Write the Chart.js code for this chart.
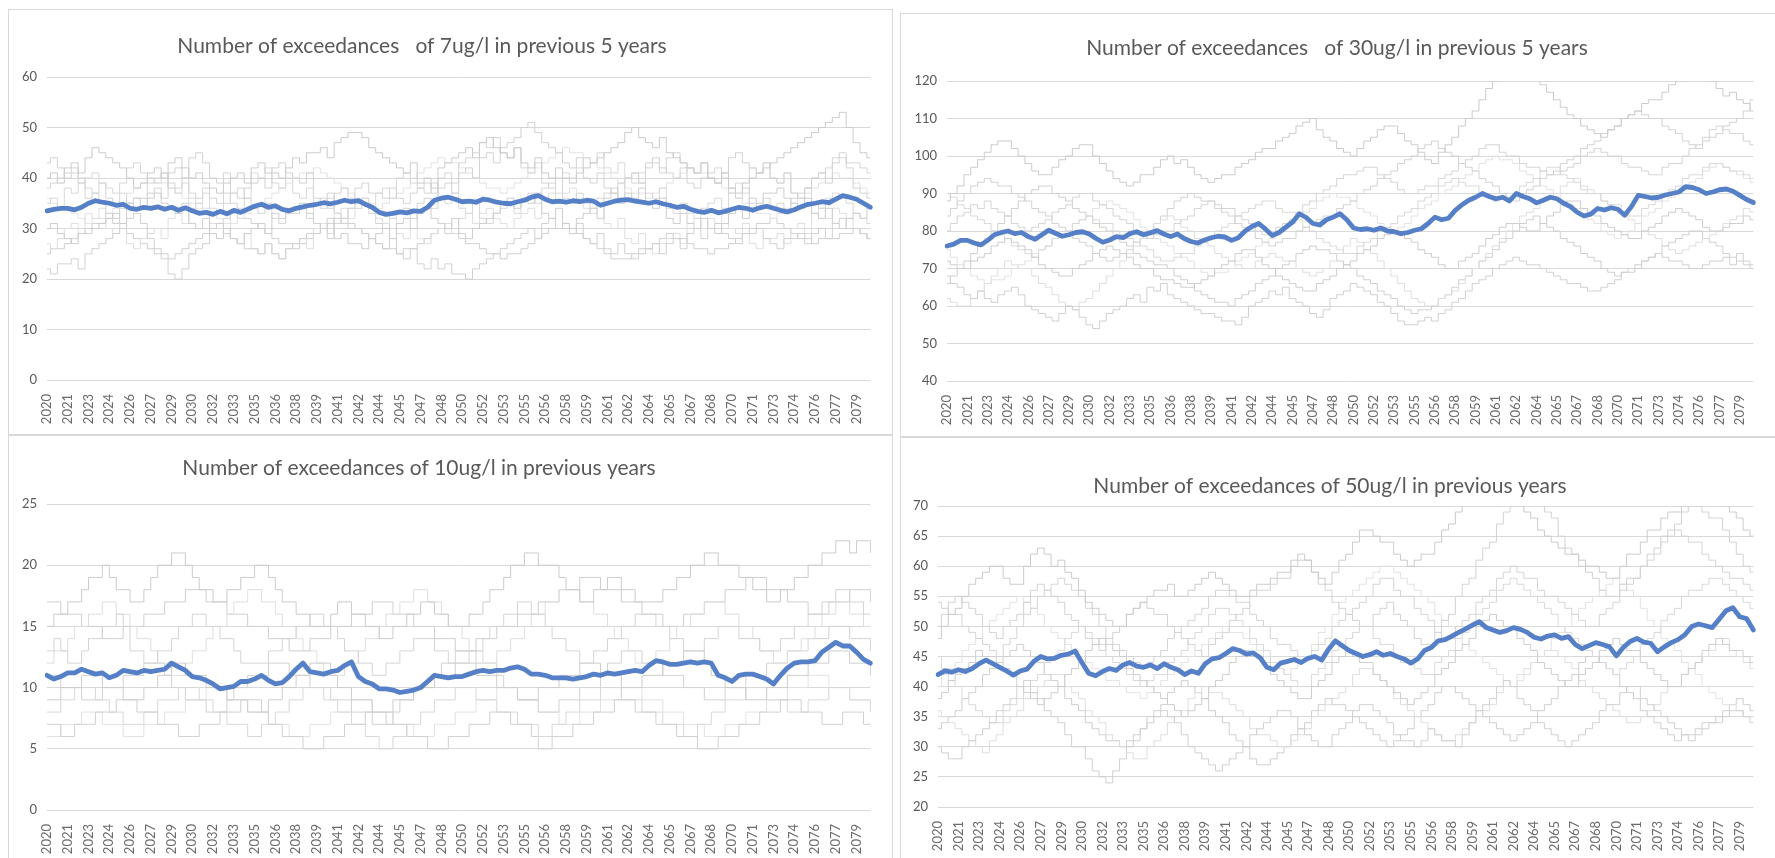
<!DOCTYPE html>
<html><head><meta charset="utf-8">
<script src="https://cdn.jsdelivr.net/npm/chart.js@4.4.1/dist/chart.umd.min.js"></script>
<style>
html,body{margin:0;padding:0;background:#fff;width:1775px;height:858px;overflow:hidden;}
.panel{position:absolute;border:1px solid #d9d9d9;box-sizing:border-box;background:#fff;}
.panel canvas{position:absolute;top:0;left:0;}
</style></head><body>
<div class="panel" style="left:900px;top:13px;width:876px;height:424px"><canvas id="c2" width="874" height="422"></canvas></div>
<div class="panel" style="left:900px;top:437px;width:876px;height:430px"><canvas id="c4" width="874" height="428"></canvas></div>
<div class="panel" style="left:8px;top:9px;width:885px;height:426px"><canvas id="c1" width="883" height="424"></canvas></div>
<div class="panel" style="left:8px;top:435px;width:885px;height:430px"><canvas id="c3" width="883" height="428"></canvas></div>
<script>
// ---------- tick labels ----------
const tickYears = ['2020','2021','2023','2024','2026','2027','2029','2030','2032','2033','2035','2036','2038','2039','2041','2042','2044','2045','2047','2048','2050','2052','2053','2055','2056','2058','2059','2061','2062','2064','2065','2067','2068','2070','2071','2073','2074','2076','2077','2079'];
const pointsPerTick = 3;

// ---------- titles ----------
const titles = [
  'Number of exceedances   of 7ug/l in previous 5 years',
  'Number of exceedances   of 30ug/l in previous 5 years',
  'Number of exceedances of 10ug/l in previous years',
  'Number of exceedances of 50ug/l in previous years'
];

// ---------- panel 1: 7ug/l ----------
const tlMean = [33.5,33.8,34, 34,33.7,34.2, 35,35.5,35.2, 35,34.6,34.8, 34,33.8,34.2, 34,34.3,33.8, 34.2,33.6,34.1, 33.5,33,33.2, 32.8,33.4,32.9, 33.6,33.2,33.8, 34.4,34.8,34.2, 34.5,33.8,33.5, 34.0,34.3,34.6, 34.8,35.1,34.9, 35.2,35.6,35.3, 35.5,34.8,34.2, 33.2,32.8,33.0, 33.3,33.1,33.5, 33.4,34.2,35.6, 36.0,36.2,35.8, 35.3,35.4,35.2, 35.8,35.6,35.2, 35.0,34.9,35.3, 35.6,36.2,36.5, 35.8,35.3,35.4, 35.2,35.5,35.3, 35.6,35.4,34.6, 35.0,35.4,35.6, 35.7,35.4,35.2, 35.0,35.3,34.9, 34.6,34.2,34.4, 33.8,33.4,33.2, 33.6,33.1,33.4, 33.8,34.2,34, 33.6,34.1,34.4, 34,33.6,33.3, 33.7,34.3,34.8, 35,35.3,35.1, 35.8,36.5,36.2, 35.8,35,34.2];
const tl1 = [40,41,39, 42,43,41, 44,46,45, 44,43,42, 40,38,39, 41,42,40, 43,44,42, 40,41,39, 38,37,39, 40,41,39, 42,43,41, 41,40,42, 44,43,45, 45,46,44, 47,48,49, 49,48,46, 45,44,43, 42,41,43, 39,40,38, 42,43,44, 45,46,44, 47,48,46, 45,44,46, 43,42,44, 41,40,42, 40,39,41, 42,43,44, 45,46,47, 49,50,48, 47,46,48, 45,44,43, 42,41,43, 40,39,41, 38,37,39, 40,41,42, 43,44,45, 46,47,48, 49,50,51, 52,53,50, 47,45,44];
const tl2 = [22,21,23, 23,24,22, 25,26,27, 28,29,30, 32,33,31, 28,26,24, 21,20,22, 25,26,27, 30,31,29, 28,27,26, 26,25,27, 25,24,26, 27,28,29, 29,30,28, 31,32,30, 30,29,28, 27,26,28, 25,24,26, 23,22,24, 22,23,21, 21,20,22, 23,24,25, 26,27,28, 29,30,28, 31,32,30, 30,29,31, 28,27,29, 26,25,27, 25,24,26, 26,27,25, 27,28,26, 29,30,28, 30,31,29, 28,27,29, 29,30,28, 27,26,28, 28,29,27, 29,30,28, 31,32,30, 30,29,28];
const tl3 = [38,39,40, 41,42,40, 38,37,39, 36,35,37, 35,36,34, 39,40,41, 39,38,40, 37,36,38, 36,35,37, 35,34,36, 34,33,35, 32,31,33, 33,34,32, 35,36,34, 37,38,36, 38,39,37, 37,36,38, 36,35,37, 38,39,37, 40,41,39, 43,44,45, 47,46,48, 45,44,46, 42,41,43, 39,38,40, 36,35,37, 35,34,36, 37,38,36, 40,41,39, 42,43,41, 44,45,43, 42,41,43, 40,39,41, 37,36,38, 35,34,36, 34,35,33, 36,37,38, 40,41,42, 44,45,43, 43,42,41];
const tl4 = [30,31,29, 28,27,29, 29,30,31, 32,33,31, 35,34,36, 36,37,35, 34,33,35, 31,30,32, 29,28,30, 28,27,29, 30,31,29, 33,32,34, 34,35,33, 31,30,32, 28,29,27, 27,26,28, 29,30,28, 31,32,30, 33,34,32, 31,30,32, 29,28,30, 31,32,33, 35,36,34, 36,35,37, 33,32,34, 31,30,32, 33,34,32, 36,37,35, 37,36,38, 35,34,36, 32,31,33, 31,30,32, 30,29,31, 33,34,32, 36,35,37, 37,38,36, 35,34,36, 33,32,34, 31,30,32, 33,32,34];
const tl5 = [35,36,34, 38,37,39, 40,41,39, 38,37,39, 42,43,41, 40,39,41, 38,37,39, 36,35,37, 34,33,35, 37,38,36, 41,40,42, 39,38,40, 37,36,38, 35,34,36, 33,32,34, 35,36,34, 37,38,36, 40,41,39, 38,37,39, 36,35,37, 34,33,35, 32,31,33, 34,35,33, 36,37,35, 38,39,37, 41,40,42, 44,43,45, 42,41,43, 40,39,41, 37,36,38, 34,33,35, 33,32,34, 35,36,34, 38,39,37, 42,41,43, 40,39,41, 37,36,38, 35,34,36, 37,36,35, 33,32,31];
const tl6 = [27,26,28, 30,31,29, 33,32,34, 30,29,31, 27,26,28, 29,30,28, 32,33,31, 34,35,33, 31,30,32, 28,27,29, 26,25,27, 25,24,26, 27,28,26, 30,31,29, 33,34,32, 35,36,34, 32,31,33, 29,28,30, 28,27,29, 30,31,29, 32,33,31, 33,34,32, 31,30,32, 33,34,32, 36,37,35, 37,38,36, 34,33,35, 31,30,32, 28,27,29, 26,25,27, 28,29,27, 31,32,30, 32,31,33, 30,29,31, 27,26,28, 28,29,27, 30,31,29, 33,34,32, 34,33,32, 30,29,28];
const tl7 = [43,44,42, 40,41,39, 36,37,35, 33,32,34, 35,36,34, 37,38,36, 41,42,40, 44,45,43, 40,39,41, 37,36,38, 39,40,38, 42,43,41, 40,39,41, 36,35,37, 33,32,34, 34,35,33, 31,30,32, 33,34,32, 35,36,34, 38,39,37, 41,42,40, 44,45,43, 46,47,48, 50,51,49, 47,46,45, 43,42,44, 40,39,41, 38,37,39, 40,41,39, 43,44,42, 41,40,42, 39,38,40, 41,42,40, 44,45,43, 42,41,43, 40,39,41, 37,36,38, 40,41,39, 43,44,42, 38,37,36];
const tl8 = [36,35,34, 34,33,32, 31,32,32, 33,34,35, 37,38,39, 40,39,39, 38,37,36, 35,34,34, 33,32,31, 31,32,33, 34,35,36, 37,38,39, 40,41,41, 42,41,40, 39,38,37, 36,35,35, 34,35,36, 37,38,40, 41,42,43, 44,43,43, 42,41,40, 39,38,38, 37,38,39, 40,41,42, 43,44,45, 46,45,45, 44,43,42, 41,40,39, 38,37,37, 36,37,38, 39,40,41, 42,41,41, 40,39,38, 37,36,35, 34,33,33, 32,33,34, 35,36,37, 38,39,40, 41,40,40, 39,38,37];
const tl9 = [25,26,26, 27,28,29, 30,31,31, 32,31,30, 29,28,27, 26,25,25, 24,25,26, 27,28,29, 30,31,32, 33,32,32, 31,30,29, 28,27,27, 26,27,28, 29,30,31, 32,31,31, 30,29,28, 27,26,26, 25,26,26, 27,28,29, 30,29,29, 28,27,27, 26,25,25, 24,25,25, 26,27,28, 29,30,30, 31,30,29, 28,27,26, 25,24,24, 24,25,25, 26,27,28, 29,28,28, 27,26,26, 25,26,26, 27,28,29, 30,31,31, 32,31,30, 29,28,28, 27,28,28, 28,29,29, 30,29,28];

// ---------- panel 2: 30ug/l ----------
const trMean = [76,76.5,77.5, 77.5,76.8,76.3, 77.5,79,79.6, 80,79.3,79.6, 78.5,77.8,79, 80.2,79.4,78.6, 79,79.6,79.8, 79.2,78,77, 77.6,78.5,78.2, 79.3,79.8,79, 79.5,80.1,79.2, 78.5,79.2,78, 77.2,76.8,77.6, 78.2,78.6,78.4, 77.5,78.2,80.0, 81.2,82.0,80.5, 78.8,79.6,81.0, 82.4,84.6,83.6, 82.0,81.6,83.0, 83.7,84.6,83.0, 80.8,80.4,80.6, 80.2,80.8,80.0, 79.8,79.3,79.6, 80.2,80.6,82.0, 83.7,83.0,83.4, 85.5,87.0,88.2, 89.0,90.0,89.2, 88.6,89.0,88.0, 90.0,89.2,88.6, 87.5,88.2,89.0, 88.6,87.4,86.5, 85.0,84.0,84.5, 86.0,85.6,86.2, 85.8,84.2,86.5, 89.5,89.2,88.8, 89.0,89.6,90.0, 90.4,91.8,91.6, 91.0,90.0,90.4, 91.0,91.2,90.6, 89.5,88.4,87.6];
const tr1 = [88,90,92, 95,97,99, 101,103,104, 104,102,100, 98,96,95, 95,97,99, 100,102,103, 103,100,98, 96,94,93, 92,93,95, 95,97,99, 100,98,99, 97,95,94, 93,94,95, 95,97,98, 99,101,102, 102,104,105, 106,108,109, 110,107,105, 104,102,101, 100,102,104, 105,107,108, 108,106,104, 103,101,99, 98,101,103, 105,108,110, 112,115,118, 120,123,125, 125,123,121, 122,119,117, 115,113,111, 110,108,107, 106,105,107, 108,110,111, 112,114,115, 115,117,119, 120,122,124, 124,122,120, 118,116,117, 115,114,112];
const tr2 = [68,66,65, 63,62,64, 62,61,63, 64,65,63, 60,59,58, 57,56,58, 60,59,57, 55,54,56, 58,59,60, 62,63,61, 65,64,66, 63,62,61, 60,59,58, 58,57,56, 56,55,57, 60,61,62, 64,63,65, 62,61,60, 58,57,59, 62,63,64, 66,65,64, 63,61,60, 58,56,55, 55,56,57, 56,58,59, 61,62,64, 66,67,68, 70,71,72, 73,72,71, 71,70,69, 68,67,66, 66,65,64, 64,65,66, 67,69,70, 71,72,73, 74,73,72, 72,71,70, 70,71,72, 72,73,71, 74,72,71];
const tr3 = [80,82,84, 85,87,86, 88,86,85, 84,82,81, 80,81,82, 83,85,86, 87,89,90, 90,88,87, 86,84,83, 82,80,79, 78,79,80, 80,82,83, 84,86,87, 88,87,86, 86,84,83, 82,80,79, 79,81,82, 83,85,87, 88,90,91, 92,94,95, 95,96,97, 97,95,94, 93,91,90, 90,91,92, 92,94,95, 96,98,99, 100,102,103, 103,101,100, 100,98,97, 97,96,95, 95,96,97, 98,100,101, 102,101,100, 100,98,97, 97,96,95, 95,97,98, 98,100,102, 103,105,107, 108,107,106, 106,104,103];
const tr4 = [72,71,70, 70,72,73, 74,76,77, 78,77,76, 75,73,71, 70,69,68, 68,70,71, 72,74,75, 76,75,74, 73,71,70, 70,68,67, 67,66,65, 65,66,67, 68,70,71, 72,74,75, 75,73,71, 70,68,67, 66,65,64, 64,66,67, 68,70,71, 72,74,75, 76,78,79, 80,79,78, 77,75,74, 73,71,70, 70,72,73, 74,76,78, 79,81,82, 82,81,80, 80,82,84, 85,87,88, 88,86,85, 84,82,81, 80,79,78, 78,80,81, 82,84,85, 86,85,84, 83,81,80, 80,81,82, 82,84,83];
const tr5 = [90,89,87, 86,84,83, 82,80,79, 78,76,75, 74,73,75, 76,78,79, 80,82,83, 84,83,82, 82,80,79, 78,77,76, 75,73,72, 72,73,74, 74,76,77, 78,80,81, 82,84,85, 86,87,88, 88,86,85, 85,83,81, 80,78,77, 76,75,74, 74,76,77, 78,80,81, 82,84,85, 86,88,89, 90,92,93, 94,93,92, 92,90,89, 88,89,90, 90,92,93, 94,96,97, 97,95,94, 93,91,90, 90,88,87, 87,85,84, 84,86,87, 88,90,91, 92,94,95, 95,97,98, 98,97,96, 96,95,94];
const tr6 = [62,61,60, 60,62,64, 66,68,70, 72,71,70, 70,68,66, 65,63,61, 60,59,61, 62,64,66, 68,70,72, 74,76,78, 80,82,83, 84,83,81, 80,78,77, 76,74,73, 72,71,70, 70,72,73, 74,73,72, 72,70,69, 68,69,70, 72,74,76, 78,77,75, 74,72,70, 68,66,64, 62,61,60, 60,62,63, 64,66,68, 70,72,74, 76,78,80, 82,84,85, 86,88,89, 90,92,93, 94,92,91, 90,88,87, 86,84,83, 82,80,79, 78,76,75, 74,75,76, 77,78,79, 80,82,83, 84,86,85];
const tr7 = [84,86,88, 90,92,93, 94,93,92, 92,90,89, 88,86,85, 84,82,81, 80,78,77, 76,74,73, 72,73,74, 75,77,78, 80,82,84, 86,88,89, 90,89,88, 88,86,85, 84,82,81, 80,78,77, 76,77,78, 78,80,81, 82,83,84, 84,86,87, 88,90,91, 92,94,95, 96,98,99, 100,102,103, 104,102,101, 100,98,97, 96,94,93, 92,90,89, 88,90,91, 92,94,95, 96,98,99, 100,102,103, 104,106,107, 108,110,111, 112,111,110, 110,108,107, 106,104,103, 102,104,105, 106,108,109, 110,112,115];
const tr8 = [75,73,71, 70,68,67, 66,67,67, 68,70,71, 72,74,75, 76,78,79, 80,82,83, 84,86,87, 88,87,86, 85,83,81, 80,78,77, 76,74,73, 72,70,69, 68,69,69, 70,72,73, 74,76,77, 78,80,81, 82,84,85, 86,88,89, 90,89,89, 88,86,85, 84,82,81, 80,81,82, 84,86,87, 88,90,91, 92,94,95, 96,98,99, 100,99,99, 98,96,95, 94,92,91, 90,88,87, 86,84,83, 82,80,79, 78,79,80, 82,84,85, 86,88,89, 90,92,93, 94,96,97, 98,97,96, 95,94,93];
const tr9 = [66,68,70, 72,74,76, 78,80,82, 84,86,88, 90,91,92, 92,90,89, 88,86,85, 84,82,81, 80,78,77, 76,74,73, 72,71,71, 70,68,67, 66,64,63, 62,61,61, 60,62,63, 64,66,67, 68,70,71, 72,74,75, 76,75,75, 74,72,71, 70,68,67, 66,64,63, 62,60,59, 58,59,59, 60,62,63, 65,67,68, 70,72,73, 75,77,78, 80,82,83, 84,82,81, 80,78,77, 76,74,73, 72,70,69, 68,69,69, 70,72,73, 74,76,77, 78,79,80, 80,78,77, 76,74,73, 72,71,70];

// ---------- panel 3: 10ug/l ----------
const blMean = [11.0,10.7,10.9, 11.2,11.2,11.5, 11.3,11.1,11.2, 10.8,11.0,11.4, 11.3,11.2,11.4, 11.3,11.4,11.5, 12.0,11.7,11.4, 10.9,10.8,10.6, 10.3,9.9,10.0, 10.1,10.5,10.5, 10.7,11.0,10.6, 10.3,10.4,10.9, 11.5,12.0,11.3, 11.2,11.1,11.3, 11.4,11.8,12.1, 10.9,10.5,10.3, 9.9,9.9,9.8, 9.6,9.7,9.8, 10.0,10.5,11.0, 10.9,10.8,10.9, 10.9,11.1,11.3, 11.4,11.3,11.4, 11.4,11.6,11.7, 11.5,11.1,11.1, 11.0,10.8,10.8, 10.8,10.7,10.8, 10.9,11.1,11.0, 11.2,11.1,11.2, 11.3,11.4,11.3, 11.8,12.2,12.1, 11.9,11.9,12.0, 12.1,12.0,12.1, 12.0,11.0,10.8, 10.5,11.0,11.1, 11.1,10.9,10.7, 10.3,11.0,11.6, 12.0,12.1,12.1, 12.2,12.9,13.3, 13.7,13.4,13.4, 12.9,12.3,12.0];
const bl1 = [15,16,16, 17,17,18, 19,19,20, 19,18,18, 17,17,18, 19,20,20, 21,21,20, 19,18,18, 17,17,18, 18,19,19, 20,20,19, 18,17,17, 16,16,15, 15,15,16, 17,17,16, 16,15,15, 14,14,15, 15,16,16, 17,17,16, 16,15,15, 15,16,16, 17,18,18, 19,20,20, 21,21,20, 20,20,19, 18,18,17, 17,18,18, 19,19,18, 18,17,17, 17,17,18, 18,19,19, 20,20,21, 21,20,20, 20,19,19, 18,18,17, 17,18,18, 19,19,20, 20,21,21, 22,22,21, 22,22,21];
const bl2 = [7,7,6, 6,7,7, 7,8,8, 8,9,9, 9,8,8, 8,7,7, 7,6,6, 6,7,7, 7,8,8, 8,9,9, 9,8,7, 7,6,6, 6,5,5, 5,6,6, 6,7,7, 7,8,8, 8,7,7, 7,6,6, 6,5,5, 5,6,6, 6,7,7, 7,8,8, 8,7,7, 7,6,5, 5,6,6, 6,7,7, 7,8,8, 8,9,9, 9,8,8, 8,7,7, 7,6,6, 6,5,5, 5,6,6, 6,7,7, 7,8,8, 8,9,9, 9,8,8, 8,7,7, 7,8,8, 8,7,7];
const bl3 = [13,14,13, 12,12,13, 14,14,15, 15,16,15, 13,13,12, 12,13,13, 14,15,15, 16,16,15, 15,14,14, 13,12,12, 12,12,13, 13,14,14, 15,15,16, 16,15,15, 14,13,13, 12,12,11, 11,12,12, 13,13,14, 14,14,13, 13,12,12, 12,13,13, 14,15,15, 16,16,17, 17,16,16, 15,14,14, 13,13,12, 12,13,13, 14,14,15, 15,16,16, 16,15,15, 14,14,13, 13,13,14, 14,15,15, 15,14,14, 14,13,13, 13,14,14, 15,15,16, 16,17,17, 18,18,17, 17,16,16];
const bl4 = [9,9,10, 10,10,11, 11,11,10, 10,10,9, 9,9,10, 10,11,11, 12,12,11, 11,11,10, 10,10,9, 9,9,8, 8,8,9, 9,10,10, 11,11,12, 12,12,11, 10,10,9, 9,9,8, 8,8,9, 9,9,10, 10,10,11, 11,11,12, 12,12,11, 11,11,10, 10,10,9, 9,9,10, 10,10,11, 11,11,12, 12,12,11, 11,11,10, 10,10,11, 11,11,12, 12,12,13, 13,13,12, 11,11,10, 10,10,9, 9,9,10, 10,10,11, 11,11,12, 12,12,13, 13,13,12, 12,12,11];
const bl5 = [8,8,9, 9,10,10, 10,9,9, 8,8,7, 7,7,8, 8,9,9, 9,10,10, 10,9,9, 8,8,7, 7,7,6, 6,7,7, 8,8,9, 9,10,10, 10,9,9, 8,8,7, 7,6,6, 5,5,6, 6,7,7, 8,8,9, 9,9,10, 10,10,9, 9,9,8, 8,8,7, 7,7,6, 6,7,7, 8,8,9, 9,9,10, 10,10,9, 9,9,8, 8,8,7, 7,7,6, 6,7,7, 8,8,9, 9,9,10, 10,10,9, 9,9,8, 8,8,9, 9,9,10, 10,10,9, 9,9,8];
const bl6 = [12,13,13, 14,15,15, 16,16,17, 17,16,16, 15,14,14, 13,12,12, 11,11,12, 13,13,14, 15,15,16, 17,17,18, 18,17,17, 16,15,15, 14,13,13, 12,11,11, 11,12,12, 13,14,14, 15,16,16, 17,17,18, 18,17,17, 16,15,15, 14,13,13, 12,12,13, 13,14,14, 15,16,16, 17,17,18, 18,18,17, 17,16,16, 15,14,14, 13,12,12, 12,13,13, 14,15,15, 16,16,17, 17,17,16, 16,15,15, 14,13,13, 12,12,13, 13,14,14, 15,16,16, 17,17,16, 16,15,15];
const bl7 = [11,11,10, 10,10,9, 9,9,10, 10,10,11, 11,11,12, 12,12,11, 10,10,9, 9,9,8, 8,8,9, 10,10,11, 11,11,12, 12,12,11, 11,11,10, 10,10,9, 9,9,8, 8,8,7, 7,7,8, 9,9,10, 10,10,11, 12,12,13, 13,13,12, 12,12,11, 10,10,9, 9,9,8, 8,8,9, 9,9,10, 10,10,11, 12,12,13, 13,13,12, 12,12,11, 11,11,10, 10,10,9, 9,9,10, 10,10,11, 11,11,12, 12,12,13, 13,13,14, 14,14,15, 15,15,14, 14,14,13];
const bl8 = [6,6,7, 7,7,8, 8,8,7, 7,7,6, 6,6,7, 7,7,8, 8,8,9, 9,9,10, 10,10,9, 9,9,8, 8,8,7, 7,7,6, 6,6,7, 7,7,8, 8,8,9, 9,9,8, 8,8,7, 7,7,6, 6,6,7, 7,7,8, 8,8,9, 9,9,10, 10,10,9, 9,9,8, 8,8,7, 7,7,8, 8,8,9, 9,9,10, 10,10,9, 9,9,8, 8,8,7, 7,7,6, 6,6,7, 7,7,8, 8,8,9, 9,9,10, 10,10,11, 11,11,10, 10,10,9, 9,9,8];
const bl9 = [17,17,16, 16,16,15, 15,15,14, 14,14,15, 15,15,16, 16,16,17, 17,17,18, 18,18,17, 17,17,16, 16,16,15, 15,15,14, 14,14,13, 13,13,14, 14,14,15, 15,15,16, 16,16,17, 17,17,16, 16,16,15, 15,15,14, 14,14,13, 13,13,14, 14,14,15, 15,15,16, 16,16,17, 17,17,18, 18,18,19, 19,19,18, 18,18,17, 17,17,16, 16,16,15, 15,15,16, 16,16,17, 17,17,18, 18,18,19, 19,19,18, 18,18,17, 17,17,16, 16,16,17, 17,17,18, 18,18,17];

// ---------- panel 4: 50ug/l ----------
const brMean = [42.0,42.6,42.4, 42.8,42.5,43.0, 43.8,44.4,43.8, 43.2,42.6,41.9, 42.6,42.9,44.2, 45.0,44.6,44.7, 45.2,45.4,45.9, 44.0,42.2,41.8, 42.5,43.0,42.7, 43.6,44.0,43.4, 43.2,43.6,43.0, 43.8,43.2,42.8, 42.0,42.6,42.2, 43.8,44.6,44.8, 45.5,46.3,46.0, 45.4,45.6,44.8, 43.2,42.8,43.9, 44.2,44.5,44.0, 44.7,45.0,44.4, 46.2,47.6,46.8, 46.0,45.5,45.0, 45.3,45.8,45.2, 45.5,45.0,44.6, 43.9,44.6,46.0, 46.5,47.6,47.8, 48.4,49.0,49.6, 50.2,50.8,49.8, 49.4,49.0,49.3, 49.8,49.5,49.0, 48.2,47.9,48.4, 48.6,48.0,48.3, 47.0,46.3,46.8, 47.3,47.0,46.6, 45.1,46.5,47.5, 48.0,47.4,47.2, 45.8,46.6,47.3, 47.8,48.6,50.0, 50.4,50.1,49.8, 51.2,52.6,53.1, 51.6,51.3,49.4];
const br1 = [48,50,52, 53,55,57, 58,59,60, 60,58,57, 57,60,62, 63,62,60, 61,59,58, 56,54,53, 52,51,50, 50,52,53, 54,55,56, 56,57,55, 55,56,57, 58,59,58, 57,56,55, 55,56,57, 57,58,59, 59,61,62, 61,59,58, 57,59,61, 62,64,66, 66,65,64, 64,62,61, 60,61,62, 62,64,66, 67,69,71, 72,74,75, 74,73,72, 72,70,69, 68,66,65, 64,63,62, 62,61,60, 60,59,58, 58,60,62, 62,64,66, 66,68,69, 69,71,72, 72,73,71, 71,70,69, 68,66,65];
const br2 = [30,29,28, 28,30,31, 32,33,34, 36,37,38, 40,41,39, 38,36,35, 34,32,30, 30,28,26, 25,24,26, 28,30,31, 33,34,35, 36,35,34, 32,30,29, 28,27,26, 27,28,29, 30,32,33, 34,35,36, 36,35,33, 32,31,30, 30,32,33, 34,36,37, 37,36,35, 34,32,31, 31,30,31, 33,32,31, 31,30,32, 34,36,37, 38,40,41, 40,38,37, 36,34,33, 32,31,30, 31,32,33, 34,36,37, 37,39,40, 40,38,37, 36,35,34, 33,32,31, 32,33,34, 34,35,36, 36,35,34];
const br3 = [54,53,52, 52,50,49, 48,47,46, 45,47,48, 50,52,53, 55,56,57, 58,57,56, 55,53,52, 50,48,47, 46,45,44, 43,44,45, 46,48,49, 50,51,52, 53,55,56, 56,55,54, 54,52,51, 50,48,47, 47,46,45, 45,46,47, 48,50,51, 52,53,54, 55,57,58, 58,56,55, 55,53,52, 51,49,48, 48,50,51, 52,54,55, 56,58,59, 60,59,58, 58,56,55, 55,54,53, 52,51,50, 50,52,53, 54,56,57, 58,60,61, 62,64,65, 66,65,64, 64,62,61, 60,59,58, 58,57,56];
const br4 = [38,39,41, 42,43,44, 46,45,45, 44,43,42, 40,39,38, 37,38,39, 40,42,43, 44,46,47, 48,47,46, 45,43,42, 41,40,39, 38,37,36, 35,36,37, 38,40,41, 42,44,45, 46,45,45, 44,42,41, 40,39,38, 38,40,41, 42,44,45, 46,45,44, 44,42,41, 40,39,38, 37,38,39, 40,42,43, 44,46,47, 48,50,51, 52,51,50, 50,48,47, 46,44,43, 42,41,40, 40,42,43, 44,46,47, 48,47,46, 46,44,43, 42,41,40, 40,42,43, 44,46,47, 48,47,46, 46,45,44];
const br5 = [45,43,41, 40,38,37, 36,35,34, 34,36,37, 38,40,41, 42,44,45, 46,48,49, 50,49,48, 47,45,44, 43,42,41, 40,41,42, 42,44,45, 46,48,49, 50,52,53, 53,52,51, 50,48,47, 46,44,43, 42,41,40, 40,42,43, 44,46,47, 48,49,50, 50,48,47, 47,45,44, 44,43,42, 42,44,45, 46,48,49, 50,52,53, 54,56,57, 58,57,56, 55,54,53, 52,50,49, 48,47,46, 45,44,43, 42,43,44, 45,47,48, 49,51,52, 53,55,56, 56,57,58, 58,57,56, 55,54,53];
const br6 = [36,35,34, 33,32,31, 30,29,31, 32,34,35, 36,38,39, 40,41,42, 42,40,39, 38,36,35, 34,32,31, 30,29,28, 28,30,31, 32,34,35, 36,38,39, 40,39,39, 38,37,36, 35,33,32, 32,31,30, 30,31,32, 33,35,36, 37,38,39, 40,42,43, 43,42,41, 40,38,37, 36,35,34, 33,32,31, 31,32,33, 34,35,36, 37,39,40, 40,42,43, 44,45,46, 46,45,44, 43,41,40, 39,38,37, 36,35,34, 34,35,36, 37,39,40, 40,42,43, 44,45,46, 47,48,46, 45,44,43];
const br7 = [50,52,54, 55,54,53, 52,50,49, 48,50,51, 52,54,56, 57,56,55, 54,52,51, 50,48,47, 46,48,49, 50,52,53, 54,53,52, 52,50,49, 48,47,46, 45,47,48, 49,51,52, 53,55,56, 56,57,58, 58,60,61, 61,59,57, 56,54,53, 52,51,50, 50,52,53, 54,52,51, 50,48,47, 47,49,51, 52,55,57, 58,61,63, 64,67,69, 70,72,73, 73,71,69, 68,65,63, 62,60,59, 58,56,55, 55,57,58, 58,60,62, 63,65,66, 67,69,70, 70,69,68, 68,66,64, 62,60,59];
const br8 = [40,42,43, 44,46,47, 48,50,51, 52,53,54, 55,54,53, 52,50,49, 48,47,46, 45,44,43, 42,41,41, 40,39,39, 38,39,40, 41,42,43, 44,45,46, 47,48,49, 50,49,49, 48,47,46, 45,44,43, 42,43,44, 45,47,49, 50,52,54, 55,56,57, 58,59,60, 60,59,58, 57,56,55, 54,52,51, 50,48,47, 46,45,44, 43,42,41, 40,41,42, 44,45,46, 48,49,50, 52,53,54, 55,56,57, 58,57,56, 55,53,51, 50,48,47, 46,44,43, 42,40,39, 38,37,37, 36,35,35];
const br9 = [33,34,35, 36,38,39, 40,42,43, 44,45,46, 47,46,45, 44,42,41, 40,38,37, 36,34,33, 32,31,31, 30,31,32, 33,35,36, 37,39,40, 41,40,39, 38,36,35, 34,32,31, 30,28,27, 27,28,29, 30,32,33, 34,36,37, 38,37,37, 36,35,34, 33,32,31, 30,31,32, 33,35,36, 37,39,40, 40,39,38, 37,36,35, 34,33,32, 31,32,33, 34,36,37, 38,40,41, 42,44,45, 45,44,43, 42,40,39, 38,36,35, 34,33,32, 31,32,32, 33,34,34, 35,36,37, 38,37,36];

// ---------- build ----------
const categories = [];
tickYears.forEach(y => { for (let k = 0; k < pointsPerTick; k++) categories.push(k === 0 ? y : ''); });

const FONT = 'Lato, "Open Sans", "Liberation Sans", sans-serif';
const greyColors = ['#cbcbcb','#d0d0d0','#d4d4d4','#cdcdcd','#d8d8d8','#dedede','#d2d2d2','#e2e2e2','#cfcfcf'];

// Panel title drawn as canvas text at a chosen centre (Excel centres it slightly off the canvas centre)
const panelTitle = {
  id: 'panelTitle',
  afterDraw(chart, args, opts) {
    const ctx = chart.ctx;
    ctx.save();
    ctx.font = 'normal 21px ' + FONT;
    ctx.fillStyle = '#595959';
    ctx.textAlign = 'center';
    ctx.textBaseline = 'middle';
    ctx.fillText(opts.text, opts.x, opts.y);
    ctx.restore();
  }
};

function makeChart(id, title, mean, greys, yMin, yMax, yStep, lay, stepped) {
  const ds = [{
    data: mean, borderColor: '#5580c8', borderWidth: 4.8, pointRadius: 0,
    tension: 0, borderJoinStyle: 'round', borderCapStyle: 'round', fill: false
  }];
  greys.forEach((g, i) => ds.push({
    data: g, borderColor: greyColors[i % greyColors.length], borderWidth: 1,
    pointRadius: 0, tension: 0, fill: false, stepped: stepped
  }));
  return new Chart(document.getElementById(id), {
    type: 'line',
    data: { labels: categories, datasets: ds },
    plugins: [panelTitle],
    options: {
      responsive: false, animation: false, devicePixelRatio: 1,
      layout: { padding: { left: 0, right: lay.padRight, top: lay.padTop, bottom: 0 } },
      plugins: {
        legend: { display: false }, tooltip: { enabled: false }, title: { display: false },
        panelTitle: { text: title, x: lay.tx, y: lay.ty }
      },
      scales: {
        x: {
          offset: false,
          grid: { display: false }, border: { display: false },
          ticks: { autoSkip: false, minRotation: 90, maxRotation: 90, padding: 6,
            color: '#6b6b6b', font: { family: FONT, size: 13 },
            callback: function(v, i) { return categories[i]; } },
          afterFit: s => { s.height = lay.xHeight; }
        },
        y: {
          min: yMin, max: yMax,
          grid: { color: '#d9d9d9', lineWidth: 1, drawTicks: false },
          border: { display: false },
          ticks: { stepSize: yStep, padding: 10, color: '#595959', font: { family: FONT, size: 13 } },
          afterFit: s => { s.width = lay.yWidth; }
        }
      }
    }
  });
}

makeChart('c1', titles[0], tlMean, [tl1,tl2,tl3,tl4,tl5,tl6,tl7,tl8,tl9], 0, 60, 10,
  { padRight: 9, padTop: 67, xHeight: 54, yWidth: 38, tx: 413, ty: 36 }, 'middle');
makeChart('c2', titles[1], trMean, [tr1,tr2,tr3,tr4,tr5,tr6,tr7,tr8,tr9], 40, 120, 10,
  { padRight: 5, padTop: 67, xHeight: 55, yWidth: 46, tx: 436, ty: 34 }, 'middle');
makeChart('c3', titles[2], blMean, [bl1,bl2,bl3,bl4,bl5,bl6,bl7,bl8,bl9], 0, 25, 5,
  { padRight: 9, padTop: 68, xHeight: 54, yWidth: 38, tx: 410, ty: 32 }, 'before');
makeChart('c4', titles[3], brMean, [br1,br2,br3,br4,br5,br6,br7,br8,br9], 20, 70, 5,
  { padRight: 5, padTop: 68, xHeight: 59, yWidth: 37, tx: 429, ty: 48 }, 'middle');
</script>
</body></html>
